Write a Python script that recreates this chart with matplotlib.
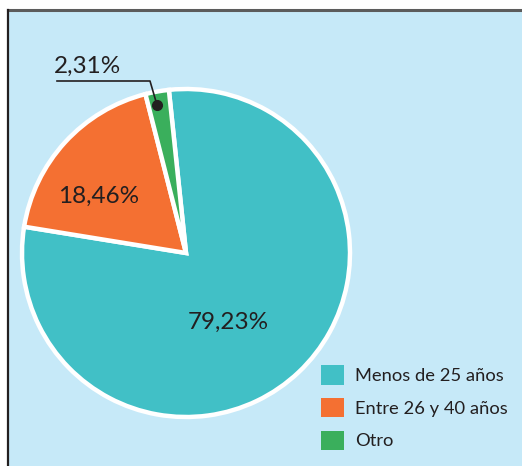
import matplotlib
matplotlib.use("Agg")
import matplotlib.pyplot as plt
from matplotlib.patches import Rectangle, Patch
from matplotlib.lines import Line2D

# data
categories = ["Menos de 25 años", "Entre 26 y 40 años", "Otro"]
values = [79.23, 18.46, 2.31]
colors = ["#41c0c6", "#f47032", "#3aaf5c"]

BG = "#c6e9f8"
TXT = "#231f20"

plt.rcParams["font.family"] = ["Lato", "DejaVu Sans"]

W, H = 522, 466
fig = plt.figure(figsize=(W / 100, H / 100), dpi=100)
fig.patch.set_facecolor("white")

# panel background and border (top + left only)
fig.add_artist(Rectangle((8 / W, 0), 1, 1 - 10 / H, transform=fig.transFigure,
                         facecolor=BG, edgecolor="none", zorder=0))
fig.add_artist(Line2D([8 / W, 1], [1 - 10 / H, 1 - 10 / H], transform=fig.transFigure,
                      color="#5c5c5c", lw=2.2, zorder=1))
fig.add_artist(Line2D([8 / W, 8 / W], [0, 1 - 10 / H], transform=fig.transFigure,
                      color="#231f20", lw=1.6, zorder=1))

ax = fig.add_axes([0, 0, 1, 1])
ax.set_facecolor("none")

cx, cy, r = 186, H - 253, 164
wedges, _ = ax.pie(values, colors=colors, startangle=96, counterclock=False,
                   center=(cx, cy), radius=r, frame=True,
                   wedgeprops=dict(edgecolor="white", linewidth=3.2))
ax.set_xlim(0, W)
ax.set_ylim(0, H)
ax.axis("off")


def fmt(v):
    return f"{v:.2f}".replace(".", ",") + "%"


ax.text(228, H - 322, fmt(values[0]), ha="center", va="center", fontsize=17.5, color=TXT)
ax.text(99, H - 196, fmt(values[1]), ha="center", va="center", fontsize=17.5, color=TXT)
ax.text(54, H - 66, fmt(values[2]), ha="left", va="center", fontsize=17.5, color=TXT)

# leader line for small slice
ax.plot([157, 150, 57], [H - 105, H - 81, H - 81], color=TXT, lw=1.2, zorder=5)
ax.plot([157], [H - 105], "o", color=TXT, ms=7, zorder=6)

handles = [Patch(facecolor=c, edgecolor="none") for c in colors]
fig.legend(handles, categories, loc="upper left", bbox_to_anchor=(314 / W, 1 - 358 / H),
           frameon=False, fontsize=13.2, handlelength=1.25, handleheight=1.25,
           labelspacing=0.72, handletextpad=0.6, labelcolor=TXT, borderaxespad=0)

fig.savefig("out.png", dpi=100, facecolor=fig.get_facecolor())
